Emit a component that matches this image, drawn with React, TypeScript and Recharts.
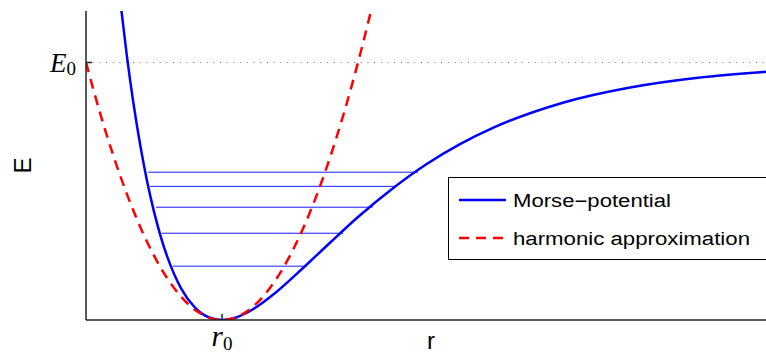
import React from 'react'
import { LineChart, Line, XAxis, YAxis, ReferenceLine, Legend } from 'recharts'

// Morse potential (r in units where r0 = 1, V in units of E0)
const morseR = [0.25, 0.3, 0.35, 0.4, 0.45, 0.5, 0.55, 0.6, 0.7, 0.8, 0.9, 1.0, 1.1, 1.2, 1.4, 1.6, 1.8, 2.0, 2.25, 2.5, 2.75, 3.0, 3.5, 4.0, 4.5, 5.0]
const morseV = [1.248, 1.028, 0.838, 0.676, 0.537, 0.421, 0.323, 0.242, 0.122, 0.049, 0.011, 0, 0.009, 0.033, 0.109, 0.204, 0.303, 0.4, 0.509, 0.604, 0.683, 0.748, 0.843, 0.903, 0.941, 0.964]

// harmonic approximation
const harmR = [0, 0.1, 0.2, 0.3, 0.4, 0.5, 0.6, 0.7, 0.8, 0.9, 1.0, 1.1, 1.2, 1.3, 1.4, 1.5, 1.6, 1.7, 1.8, 1.9, 2.0, 2.1]
const harmV = [1, 0.81, 0.64, 0.49, 0.36, 0.25, 0.16, 0.09, 0.04, 0.01, 0, 0.01, 0.04, 0.09, 0.16, 0.25, 0.36, 0.49, 0.64, 0.81, 1.0, 1.21]

// vibrational levels: energy and left/right turning points
const levelE = [0.209, 0.337, 0.438, 0.519, 0.574]
const levelLeft = [0.637, 0.557, 0.515, 0.471, 0.458]
const levelRight = [1.623, 1.89, 2.108, 2.285, 2.441]

const r0 = 1
const E0 = 1

const morseData = morseR.map((r, i) => ({ r, v: morseV[i] }))
const harmData = harmR.map((r, i) => ({ r, v: harmV[i] }))
const levels = levelE.map((e, i) => [
  { r: levelLeft[i], v: e },
  { r: levelRight[i], v: e },
])

const EmptyTick = () => <g />

const E0Tick = (props: any) => (
  <text x={props.x} y={props.y + 9} textAnchor="end" fill="#000" fontFamily="Liberation Serif">
    <tspan fontStyle="italic" fontSize={27}>E</tspan>
    <tspan fontSize={19} dy={3}>0</tspan>
  </text>
)

const R0Tick = (props: any) => (
  <text x={props.x} y={props.y + 26} textAnchor="middle" fill="#000" fontFamily="Liberation Serif">
    <tspan fontStyle="italic" fontSize={29}>r</tspan>
    <tspan fontSize={19} dy={4}>0</tspan>
  </text>
)

const YLabel = (props: any) => {
  const { viewBox } = props
  const cx = viewBox.x + 22
  const cy = viewBox.y + viewBox.height / 2
  return (
    <text x={cx} y={cy} transform={`rotate(-90 ${cx} ${cy})`} textAnchor="middle" dominantBaseline="central"
      fontFamily="Liberation Sans" fontSize={24} fill="#000">E</text>
  )
}

const XLabel = (props: any) => {
  const { viewBox } = props
  return (
    <text x={viewBox.x + viewBox.width / 2 + 5} y={viewBox.y + 29} textAnchor="middle"
      fontFamily="Liberation Sans" fontSize={24} fill="#000">r</text>
  )
}

const textWidths: Record<string, number> = {
  'Morse−potential': 158,
  'harmonic approximation': 237,
}

const LegendBox = (props: any) => {
  const items = (props.payload || []).filter((p: any) => p.type !== 'none')
  return (
    <svg width={330} height={83}>
      <rect x={0.5} y={0.5} width={340} height={82} fill="#fff" stroke="#000" strokeWidth={1} />
      {items.map((p: any, i: number) => {
        const cy = 23 + i * 38
        return (
          <g key={p.value}>
            <line x1={11} x2={58} y1={cy} y2={cy} stroke={p.color} strokeWidth={2.5}
              strokeDasharray={p.payload?.strokeDasharray} />
            <text x={65} y={cy + 7} fontFamily="Liberation Sans" fontSize={18} fill="#000"
              textLength={textWidths[p.value]} lengthAdjust="spacingAndGlyphs">{p.value}</text>
          </g>
        )
      })}
    </svg>
  )
}

export default function App() {
  return (
    <div style={{ position: 'absolute', left: 0, top: 0, width: 766, height: 354, overflow: 'hidden', background: '#fff' }}>
      <LineChart width={766} height={354} margin={{ top: 11, right: 0, bottom: 0, left: 0 }}>
        <XAxis dataKey="r" type="number" domain={[0, 5]} ticks={[r0]} allowDataOverflow
          height={34} tickSize={-6} tickMargin={6} stroke="#222" strokeWidth={1.5} tick={R0Tick} label={<XLabel />} />
        <XAxis xAxisId="top" orientation="top" dataKey="r" type="number" domain={[0, 5]} ticks={[r0]}
          allowDataOverflow height={0} tickSize={-6} stroke="#222" strokeWidth={1.5} tick={EmptyTick} />
        <YAxis type="number" domain={[0, 1.2]} ticks={[E0]} allowDataOverflow width={86}
          tickSize={-6} tickMargin={16} stroke="#222" strokeWidth={1.5} tick={E0Tick} label={<YLabel />} />
        <ReferenceLine y={E0} stroke="#777" strokeDasharray="1 5.7" strokeWidth={1} />
        {levels.map((d, i) => (
          <Line key={i} data={d} dataKey="v" name={`level${i}`} stroke="#1a1aff" strokeWidth={1}
            dot={false} legendType="none" isAnimationActive={false} />
        ))}
        <Line data={morseData} dataKey="v" name="Morse−potential" type="monotone" stroke="#0000ff"
          strokeWidth={2.5} dot={false} isAnimationActive={false} />
        <Line data={harmData} dataKey="v" name="harmonic approximation" type="monotone" stroke="#ff0000"
          strokeWidth={2.5} strokeDasharray="10 7" dot={false} isAnimationActive={false} />
        <Legend content={<LegendBox />} layout="vertical" align="center" verticalAlign="middle"
          wrapperStyle={{ left: 448, top: 177, width: 330, height: 83 }} />
      </LineChart>
    </div>
  )
}
